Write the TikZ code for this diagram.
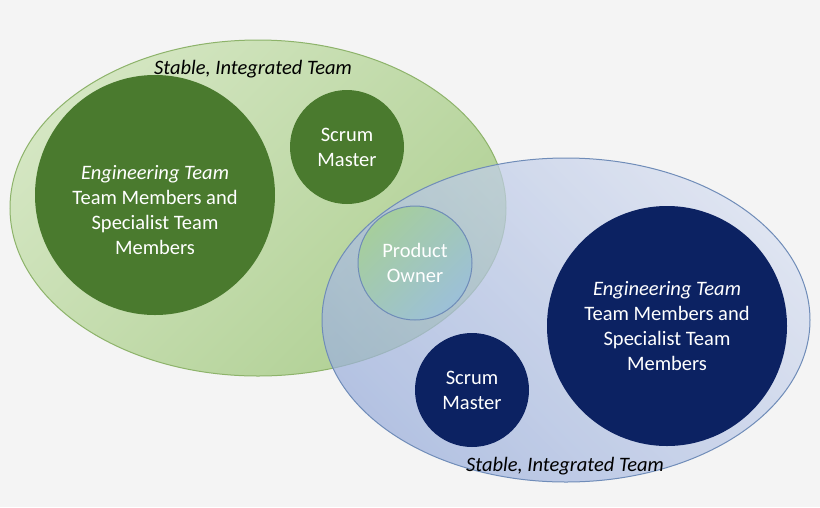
\documentclass[tikz,border=0pt]{standalone}
\usepackage{fontspec}
\setmainfont{Carlito}
\usetikzlibrary{shapes.geometric}
\definecolor{bg}{HTML}{F4F4F4}
\definecolor{lgA}{HTML}{D4E6C2}
\definecolor{lgB}{HTML}{B0D094}
\definecolor{lgS}{HTML}{8DB36A}
\definecolor{lbA}{HTML}{D6DEF0}
\definecolor{lbB}{HTML}{9CB0DC}
\definecolor{lbS}{HTML}{6F8CB8}
\definecolor{dg}{HTML}{4A7A2E}
\definecolor{nv}{HTML}{0C2262}
\definecolor{poA}{HTML}{A6CE9C}
\definecolor{poB}{HTML}{9CC0D8}
\begin{document}
\begin{tikzpicture}[x=1pt,y=-1pt,
  txt/.style={font=\fontsize{20.5}{25}\selectfont,text=white,align=center},
  lab/.style={font=\fontsize{20.5}{25}\selectfont\itshape,text=black},
  circ/.style={circle,draw=none,inner sep=0pt}]
\fill[bg] (0,0) rectangle (820,507);
\useasboundingbox (0,0) rectangle (820,507);
\node[ellipse,minimum width=496,minimum height=336,draw=lgS,line width=1pt,
  left color=lgA,right color=lgB,shading angle=45] (L) at (258,208) {};
\node[ellipse,minimum width=488,minimum height=324,draw=lbS,line width=1pt,
  top color=lbA,bottom color=lbB,shading angle=-45,fill opacity=0.72] (R) at (566,320) {};
\node[circ,fill=dg,minimum size=240] (E1) at (155,195) {};
\node[txt] at (155,210) {\textit{Engineering Team}\\Team Members and\\Specialist Team\\Members};
\node[circ,fill=dg,minimum size=114] (S1) at (347,147) {};
\node[txt] at (S1) {Scrum\\Master};
\node[circ,fill=nv,minimum size=240] (E2) at (667,326) {};
\node[txt] at (E2) {\textit{Engineering Team}\\Team Members and\\Specialist Team\\Members};
\node[circ,fill=nv,minimum size=114] (S2) at (472,390) {};
\node[txt] at (S2) {Scrum\\Master};
\node[circle,draw=lbS,line width=1pt,minimum size=114,inner sep=0pt,
  left color=poA,right color=poB,shading angle=45] (PO) at (415,263) {};
\node[txt] at (PO) {Product\\Owner};
\node[lab] (T1) at (253,69) {Stable, Integrated Team};
\node[lab] (T2) at (565,466) {Stable, Integrated Team};
\end{tikzpicture}
\end{document}
